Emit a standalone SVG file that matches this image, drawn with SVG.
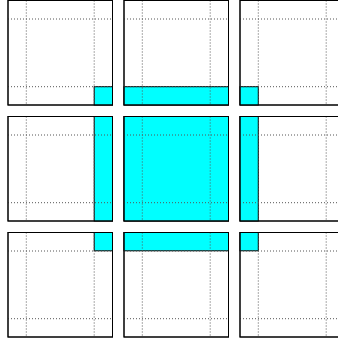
<svg xmlns="http://www.w3.org/2000/svg" xmlns:xlink="http://www.w3.org/1999/xlink" width="338" height="342" viewBox="0 0 338 342">
<style>
.panel{fill:#ffffff;stroke:#000000;stroke-width:1}
.halo{fill:#00ffff;stroke:#000000;stroke-width:1}
.dot{fill:none;stroke:#555555;stroke-width:1;stroke-dasharray:1 2}
.frame{fill:none;stroke:#000000;stroke-width:1}
</style>
<defs>
<g id="grid">
<line class="dot" x1="0" y1="18.5" x2="104.5" y2="18.5"/>
<line class="dot" x1="0" y1="86.2" x2="104.5" y2="86.2"/>
<line class="dot" x1="18.3" y1="0" x2="18.3" y2="104.5"/>
<line class="dot" x1="86.2" y1="0" x2="86.2" y2="104.5"/>
</g>
</defs>
<rect width="338" height="342" fill="#ffffff"/>
<g id="panel-tl" transform="translate(8,0.5)">
<rect class="panel" width="104.5" height="104.5"/>
<rect class="halo" x="86.2" y="86.2" width="18.3" height="18.3"/>
<use xlink:href="#grid"/>
<rect class="frame" width="104.5" height="104.5"/>
</g>
<g id="panel-tm" transform="translate(124,0.5)">
<rect class="panel" width="104.5" height="104.5"/>
<rect class="halo" x="0" y="86.2" width="104.5" height="18.3"/>
<use xlink:href="#grid"/>
<rect class="frame" width="104.5" height="104.5"/>
</g>
<g id="panel-tr" transform="translate(240,0.5)">
<rect class="panel" width="104.5" height="104.5"/>
<rect class="halo" x="0" y="86.2" width="18.3" height="18.3"/>
<use xlink:href="#grid"/>
<rect class="frame" width="104.5" height="104.5"/>
</g>
<g id="panel-ml" transform="translate(8,116.5)">
<rect class="panel" width="104.5" height="104.5"/>
<rect class="halo" x="86.2" y="0" width="18.3" height="104.5"/>
<use xlink:href="#grid"/>
<rect class="frame" width="104.5" height="104.5"/>
</g>
<g id="panel-mc" transform="translate(124,116.5)">
<rect class="panel" width="104.5" height="104.5"/>
<rect class="halo" x="0" y="0" width="104.5" height="104.5"/>
<use xlink:href="#grid"/>
<rect class="frame" width="104.5" height="104.5"/>
</g>
<g id="panel-mr" transform="translate(240,116.5)">
<rect class="panel" width="104.5" height="104.5"/>
<rect class="halo" x="0" y="0" width="18.3" height="104.5"/>
<use xlink:href="#grid"/>
<rect class="frame" width="104.5" height="104.5"/>
</g>
<g id="panel-bl" transform="translate(8,232.5)">
<rect class="panel" width="104.5" height="104.5"/>
<rect class="halo" x="86.2" y="0" width="18.3" height="18.3"/>
<use xlink:href="#grid"/>
<rect class="frame" width="104.5" height="104.5"/>
</g>
<g id="panel-bm" transform="translate(124,232.5)">
<rect class="panel" width="104.5" height="104.5"/>
<rect class="halo" x="0" y="0" width="104.5" height="18.3"/>
<use xlink:href="#grid"/>
<rect class="frame" width="104.5" height="104.5"/>
</g>
<g id="panel-br" transform="translate(240,232.5)">
<rect class="panel" width="104.5" height="104.5"/>
<rect class="halo" x="0" y="0" width="18.3" height="18.3"/>
<use xlink:href="#grid"/>
<rect class="frame" width="104.5" height="104.5"/>
</g>
<g id="connectors"/>
</svg>
